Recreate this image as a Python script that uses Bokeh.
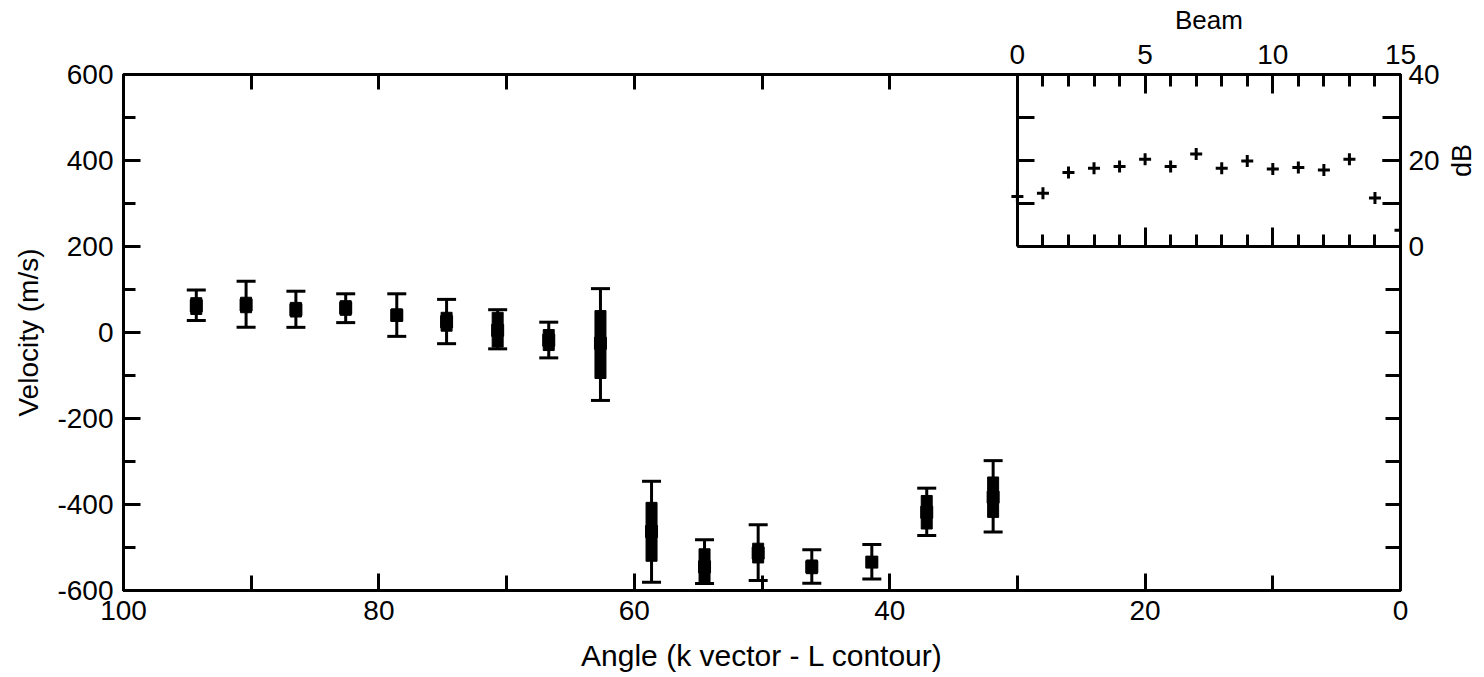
import math
from bokeh.plotting import figure
from bokeh.models import (Range1d, LinearAxis, SingleIntervalTicker, FixedTicker, ColumnDataSource,
                          Whisker, TeeHead, Label)
from bokeh.embed import file_html
from bokeh.resources import INLINE

# ---------------- data ----------------
angle = [94.3, 90.4, 86.5, 82.6, 78.6, 74.7, 70.7, 66.7, 62.65, 58.65, 54.5, 50.3, 46.1, 41.4, 37.1, 31.9]
velocity = [62, 64, 53, 57, 40, 25, 5, -18, -25, -463, -545, -513, -545, -534, -418, -383]
inner_hi = [81, 82, 70, 74, 55, 47, 47, 7, 51, -395, -503, -490, -529, -526, -379, -336]
inner_lo = [42, 46, 36, 40, 26, 3, -34, -42, -107, -532, -580, -536, -561, -542, -457, -430]
err_hi = [99, 119, 96, 90, 90, 77, 53, 24, 102, -346, -482, -447, -505, -493, -362, -298]
err_lo = [28, 12, 12, 23, -9, -26, -38, -59, -158, -581, -584, -577, -583, -573, -472, -464]

beam = [0, 1, 2, 3, 4, 5, 6, 7, 8, 9, 10, 11, 12, 13, 14, 15]
db = [11.6, 12.4, 17.2, 18.2, 18.6, 20.3, 18.6, 21.5, 18.2, 19.9, 18.0, 18.4, 17.8, 20.3, 11.3, 3.8]

x_ticks = [100, 80, 60, 40, 20, 0]
x_tick_labels = ["100", "80", "60", "40", "20", "0"]
y_ticks = [600, 400, 200, 0, -200, -400, -600]
y_tick_labels = ["600", "400", "200", "0", "-200", "-400", "-600"]
beam_ticks = [0, 5, 10, 15]
beam_tick_labels = ["0", "5", "10", "15"]
db_ticks = [0, 20, 40]
db_tick_labels = ["0", "20", "40"]

# unlabeled tick positions
top_angle_ticks = [90, 80, 70, 60, 50, 40]
right_vel_ticks = [100, 0, -100, -200, -300, -400, -500]
inset_left_ticks = [10, 20, 30]
inset_bottom_major = [5, 10]
inset_bottom_minor = [1, 2, 3, 4, 6, 7, 8, 9, 11, 12, 13, 14]

FONT = "Liberation Sans"

p = figure(width=1484, height=677, x_range=Range1d(100, 0), y_range=Range1d(-600, 600),
           output_backend="svg", toolbar_location=None,
           min_border_left=123, min_border_right=84, min_border_top=74, min_border_bottom=87)
# inset occupies angle 30..0, velocity 200..600 of the frame
p.extra_x_ranges = {"beam": Range1d(-35, 15)}
p.extra_y_ranges = {"db": Range1d(-80, 40)}
p.xgrid.visible = False
p.ygrid.visible = False
p.outline_line_color = "black"
p.outline_line_width = 3
p.background_fill_color = "white"
p.border_fill_color = "white"


def style(ax, tin, minor_in, label_size="28px"):
    ax.axis_line_width = 3
    ax.axis_line_color = "black"
    ax.major_tick_line_width = 3
    ax.minor_tick_line_width = 3
    ax.major_tick_line_color = "black"
    ax.minor_tick_line_color = "black"
    ax.major_tick_in = tin
    ax.major_tick_out = 0
    ax.minor_tick_in = minor_in
    ax.minor_tick_out = 0
    ax.major_label_text_font = FONT
    ax.major_label_text_font_size = label_size
    ax.major_label_text_color = "black"
    ax.axis_label_text_font = FONT
    ax.axis_label_text_font_size = "28px"
    ax.axis_label_text_font_style = "normal"
    ax.axis_label_text_color = "black"


def tick_only_axis(side, ticks, length, **kw):
    ax = LinearAxis(ticker=FixedTicker(ticks=[], minor_ticks=ticks), **kw)
    style(ax, length, length)
    p.add_layout(ax, side)
    return ax


# main bottom axis
xa = p.xaxis[0]
xa.ticker = SingleIntervalTicker(interval=20, num_minor_ticks=2)
style(xa, 17, 15)
xa.major_label_overrides = dict(zip(x_ticks, x_tick_labels))
xa.major_label_standoff = 10
xa.axis_label = "Angle (k vector - L contour)"
xa.axis_label_text_font_size = "30px"
xa.axis_label_standoff = 16

# main left axis
ya = p.yaxis[0]
ya.ticker = SingleIntervalTicker(interval=200, num_minor_ticks=2)
style(ya, 17, 12)
ya.major_label_overrides = dict(zip(y_ticks, y_tick_labels))
ya.major_label_standoff = 10
ya.axis_label = "Velocity (m/s)"
ya.axis_label_standoff = 10

# inset top axis (Beam)
ba = LinearAxis(x_range_name="beam", bounds=(0, 15),
                ticker=SingleIntervalTicker(interval=5, num_minor_ticks=5))
style(ba, 19, 12)
ba.major_label_overrides = dict(zip(beam_ticks, beam_tick_labels))
ba.major_label_standoff = 11
p.add_layout(ba, "above")

# inset right axis (dB)
da = LinearAxis(y_range_name="db", bounds=(0, 40),
                ticker=SingleIntervalTicker(interval=20, num_minor_ticks=2))
style(da, 18, 18)
da.major_label_overrides = dict(zip(db_ticks, db_tick_labels))
da.major_label_standoff = 8
p.add_layout(da, "right")

# unlabeled tick rows
tick_only_axis("above", top_angle_ticks, 15, fixed_location=600, bounds=(30, 100))
tick_only_axis("right", right_vel_ticks, 15, fixed_location=0, bounds=(-600, 200))
tick_only_axis("left", inset_left_ticks, 17, x_range_name="beam", y_range_name="db",
               fixed_location=0, bounds=(0, 40))
tick_only_axis("below", inset_bottom_major, 19, x_range_name="beam", y_range_name="db",
               fixed_location=0, bounds=(0, 15))
tick_only_axis("below", inset_bottom_minor, 12, x_range_name="beam", y_range_name="db",
               fixed_location=0, bounds=(0, 15))

# inset titles (in side panels so they are not clipped to the frame)
p.add_layout(Label(x=7.5, y=52.7, x_range_name="beam", y_range_name="db", text="Beam",
                   text_font=FONT, text_font_size="26px", text_color="black",
                   text_align="center", text_baseline="middle"), "above")
p.add_layout(Label(x=17.4, y=20, x_range_name="beam", y_range_name="db", text="dB",
                   angle=math.pi / 2, text_font=FONT, text_font_size="27px", text_color="black",
                   text_align="center", text_baseline="middle"), "right")

# ---------------- glyphs ----------------
src = ColumnDataSource(dict(
    x=angle, v=velocity, elo=err_lo, ehi=err_hi,
    imid=[(a + b) / 2 for a, b in zip(inner_lo, inner_hi)],
    ih=[b - a for a, b in zip(inner_lo, inner_hi)],
))

w = Whisker(source=src, base="x", upper="ehi", lower="elo", line_width=3, line_color="black",
            upper_head=TeeHead(size=19, line_width=3, line_color="black"),
            lower_head=TeeHead(size=19, line_width=3, line_color="black"))
p.add_layout(w)

p.rect(x="x", y="imid", width=11, height="ih", width_units="screen", source=src,
       fill_color="black", line_color="black")
p.scatter(x="x", y="v", marker="square", size=12, source=src, fill_color="black", line_color="black")

p.scatter(beam, db, marker="cross", size=12, line_width=3, line_color="black",
          x_range_name="beam", y_range_name="db")

open("out.html", "w").write(file_html(p, INLINE))
